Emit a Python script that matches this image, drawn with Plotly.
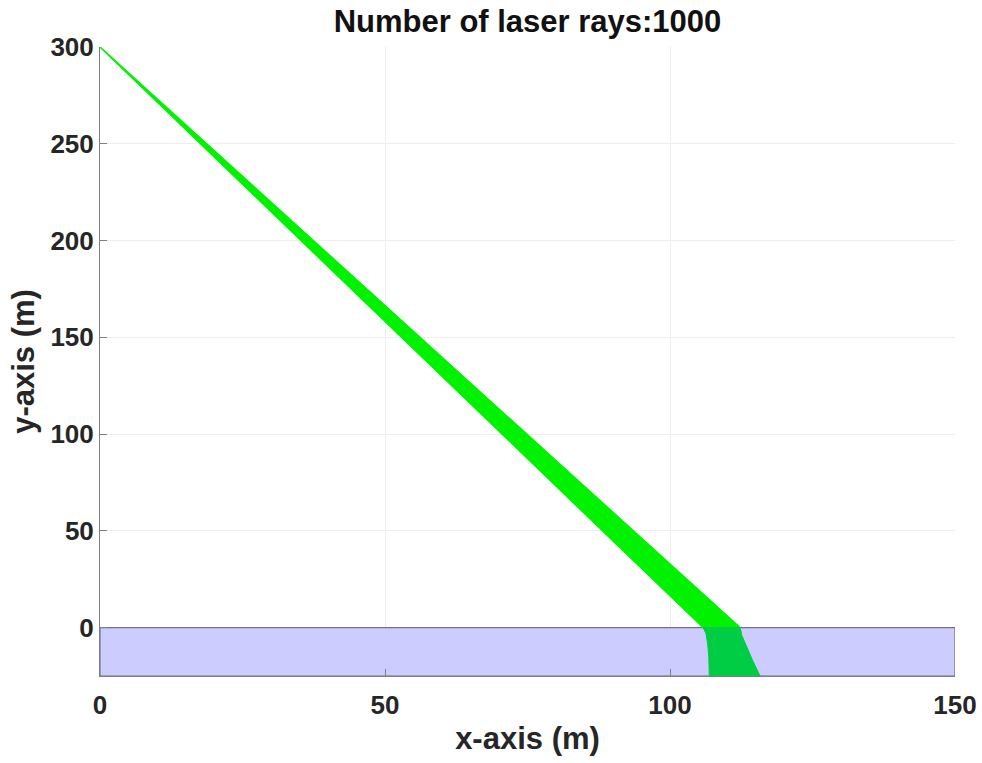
import plotly.graph_objects as go

# ---- data ----
source_x, source_y = 0.0, 300.0
# beam footprint on the water surface (y = 0)
surface_left_x, surface_right_x = 105.8, 112.3
# refracted beam edges inside the water
water_left_y = [0, -3, -8, -15, -25]
water_left_x = [105.8, 106.3, 106.6, 106.8, 106.9]
water_right_y = [0, -4, -9, -17, -25]
water_right_x = [112.3, 112.6, 113.3, 114.5, 115.8]
# water layer
water_x = [0, 150]
water_y = [-25, 0]
n_rays = 1000

x_ticks = [0, 50, 100, 150]
y_ticks = [0, 50, 100, 150, 200, 250, 300]

FONT = "Liberation Sans, Arial, Helvetica, sans-serif"
TXT = "#262626"

fig = go.Figure()

# water rectangle
fig.add_trace(go.Scatter(
    x=[water_x[0], water_x[1], water_x[1], water_x[0], water_x[0]],
    y=[water_y[0], water_y[0], water_y[1], water_y[1], water_y[0]],
    mode="lines", fill="toself", fillcolor="#ccccff",
    line=dict(color="#6e6e8a", width=1.2), hoverinfo="skip", showlegend=False))

# beam in air
fig.add_trace(go.Scatter(
    x=[source_x, surface_left_x, surface_right_x, source_x],
    y=[source_y, 0, 0, source_y],
    mode="lines", fill="toself", fillcolor="#00f200",
    line=dict(color="#00f200", width=1.5), hoverinfo="skip", showlegend=False))

# beam in water
poly_x = water_left_x + water_right_x[::-1] + [water_left_x[0]]
poly_y = water_left_y + water_right_y[::-1] + [water_left_y[0]]
fig.add_trace(go.Scatter(
    x=poly_x, y=poly_y, mode="lines", fill="toself", fillcolor="#00cc44",
    line=dict(color="#00cc44", width=1), hoverinfo="skip", showlegend=False))

axis_common = dict(
    showgrid=True, gridcolor="#eeeeee", gridwidth=1, automargin=False,
    zeroline=False, showline=True, linecolor="#808080", linewidth=1,
    ticks="inside", ticklen=7, tickcolor="#808080",
    tickfont=dict(family=FONT, size=26, color=TXT, weight="bold"),
)

fig.update_layout(
    width=982, height=763,
    margin=dict(l=100, r=27, t=47, b=87),
    plot_bgcolor="white", paper_bgcolor="white",
    title=dict(text=f"Number of laser rays:{n_rays}", x=0.5, xanchor="center",
               xref="paper", y=0.972, yanchor="middle",
               font=dict(family=FONT, size=31, color="#111111", weight="bold")),
    xaxis=dict(range=[0, 150], tickvals=x_ticks, ticklabelstandoff=6,
               title=dict(text="x-axis (m)", standoff=8,
                          font=dict(family=FONT, size=31, color=TXT, weight="bold")),
               **axis_common),
    yaxis=dict(range=[-25, 300], tickvals=y_ticks,
               title=dict(text="y-axis (m)", standoff=6,
                          font=dict(family=FONT, size=31, color=TXT, weight="bold")),
               **axis_common),
)

fig.write_html("out.html")
